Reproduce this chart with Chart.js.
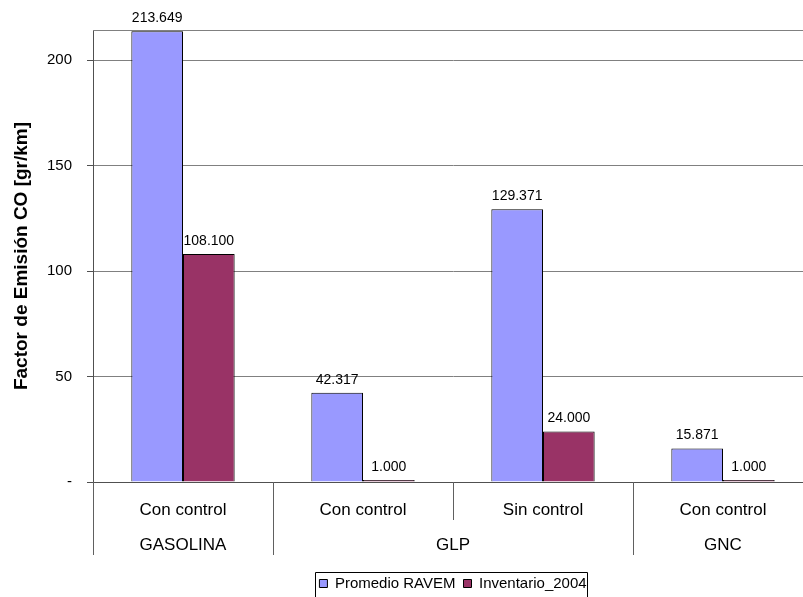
<!DOCTYPE html>
<html>

<head>
    <title>Factor de Emision CO</title>
    <script src="https://cdn.jsdelivr.net/npm/chart.js@4.4.1/dist/chart.umd.min.js"></script>
    <style>
        body { margin: 0; overflow: hidden; background: #fff; }
        #wrap { width: 803px; height: 597px; overflow: hidden; }
    </style>
    <script>
        // data
        var categories = ["Con control", "Con control", "Sin control", "Con control"];
        var groups = ["GASOLINA", "GLP", "GLP", "GNC"];
        var ravem = [213.649, 42.317, 129.371, 15.871];
        var inventario = [108.100, 1.000, 24.000, 1.000];
        var seriesNames = ["Promedio RAVEM", "Inventario_2004"];
        var yTicks = [0, 50, 100, 150, 200];
        var yMax = 214.3;

        var FONT = "'Liberation Sans', Arial, sans-serif";

        // value labels above each bar
        var valueLabels = {
            id: 'valueLabels',
            afterDatasetsDraw: function (chart) {
                var ctx = chart.ctx;
                ctx.save();
                ctx.font = "14px " + FONT;
                ctx.fillStyle = "#000";
                ctx.textAlign = "center";
                ctx.textBaseline = "bottom";
                chart.data.datasets.forEach(function (ds, i) {
                    chart.getDatasetMeta(i).data.forEach(function (bar, j) {
                        ctx.fillText(ds.data[j].toFixed(3), bar.x, bar.y - 6);
                    });
                });
                ctx.restore();
            }
        };

        // second row of the x axis (fuel groups), dividers, top frame line, legend box
        var axisExtras = {
            id: 'axisExtras',
            afterDraw: function (chart) {
                var ctx = chart.ctx;
                var x = chart.scales.x;
                var area = chart.chartArea;
                var w = x.getPixelForValue(1) - x.getPixelForValue(0);
                ctx.save();

                // top line of plot area
                ctx.strokeStyle = "#808080";
                ctx.lineWidth = 1;
                ctx.beginPath();
                ctx.moveTo(area.left, area.top + 0.5);
                ctx.lineTo(area.right, area.top + 0.5);
                ctx.stroke();

                // dividers
                ctx.strokeStyle = "#606060";
                for (var i = 0; i <= categories.length; i++) {
                    var px = Math.round(x.getPixelForValue(0) - w / 2 + i * w) + 0.5;
                    var isGroup = i === 0 || i === categories.length || groups[i] !== groups[i - 1];
                    ctx.beginPath();
                    ctx.moveTo(px, area.bottom);
                    ctx.lineTo(px, isGroup ? area.bottom + 73 : area.bottom + 38);
                    ctx.stroke();
                }

                // group labels
                ctx.font = "17px " + FONT;
                ctx.fillStyle = "#000";
                ctx.textAlign = "center";
                ctx.textBaseline = "middle";
                var start = 0;
                for (var k = 1; k <= groups.length; k++) {
                    if (k === groups.length || groups[k] !== groups[start]) {
                        var cx = (x.getPixelForValue(start) + x.getPixelForValue(k - 1)) / 2;
                        ctx.fillText(groups[start], cx, area.bottom + 63);
                        start = k;
                    }
                }

                // frame round the legend
                var hb = chart.legend.legendHitBoxes;
                if (hb && hb.length) {
                    var l = hb[0].left - 4;
                    var r = hb[hb.length - 1].left + hb[hb.length - 1].width + 1;
                    var t = hb[0].top - 4;
                    ctx.strokeStyle = "#000";
                    ctx.beginPath();
                    ctx.rect(Math.round(l) + 0.5, Math.round(t) + 0.5, Math.round(r - l), 40);
                    ctx.stroke();
                }
                ctx.restore();
            }
        };

        window.addEventListener('load', function () {
            new Chart(document.getElementById('chart').getContext('2d'), {
                type: 'bar',
                data: {
                    labels: categories,
                    datasets: [{
                        label: seriesNames[0],
                        data: ravem,
                        backgroundColor: "#9999FF",
                        borderColor: "#000",
                        borderWidth: 1
                    }, {
                        label: seriesNames[1],
                        data: inventario,
                        backgroundColor: "#993366",
                        borderColor: "#000",
                        borderWidth: 1
                    }]
                },
                options: {
                    responsive: false,
                    animation: false,
                    layout: { padding: { top: 30, right: 0, bottom: 0, left: 0 } },
                    datasets: {
                        bar: { categoryPercentage: 0.574, barPercentage: 1.0 }
                    },
                    plugins: {
                        tooltip: { enabled: false },
                        legend: {
                            position: 'bottom',
                            fullSize: false,
                            labels: {
                                font: { family: FONT, size: 15 },
                                color: "#000",
                                boxWidth: 8,
                                boxHeight: 8,
                                padding: 8
                            }
                        }
                    },
                    scales: {
                        x: {
                            grid: { display: false, drawTicks: false },
                            border: { display: true, color: "#505050", width: 1 },
                            ticks: {
                                font: { family: FONT, size: 17 },
                                color: "#000",
                                padding: 18,
                                maxRotation: 0,
                                autoSkip: false
                            },
                            afterFit: function (scale) { scale.height = 86; }
                        },
                        y: {
                            min: 0,
                            max: yMax,
                            afterBuildTicks: function (scale) {
                                scale.ticks = yTicks.map(function (v) { return { value: v }; });
                            },
                            ticks: {
                                font: { family: FONT, size: 15 },
                                color: "#000",
                                padding: 15,
                                callback: function (v) { return v === 0 ? "-" : v; }
                            },
                            grid: {
                                color: "#808080",
                                tickColor: "#505050",
                                tickLength: 6
                            },
                            border: { display: true, color: "#505050", width: 1 },
                            title: {
                                display: true,
                                text: "Factor de Emisión CO [gr/km]",
                                font: { family: FONT, size: 19, weight: 'bold' },
                                color: "#000",
                                padding: { top: 10, bottom: 0 }
                            },
                            afterFit: function (scale) { scale.width = 93; }
                        }
                    }
                },
                plugins: [valueLabels, axisExtras]
            });
        });
    </script>
</head>

<body>
    <div id="wrap">
        <canvas id="chart" width="813" height="601"></canvas>
    </div>
</body>

</html>
